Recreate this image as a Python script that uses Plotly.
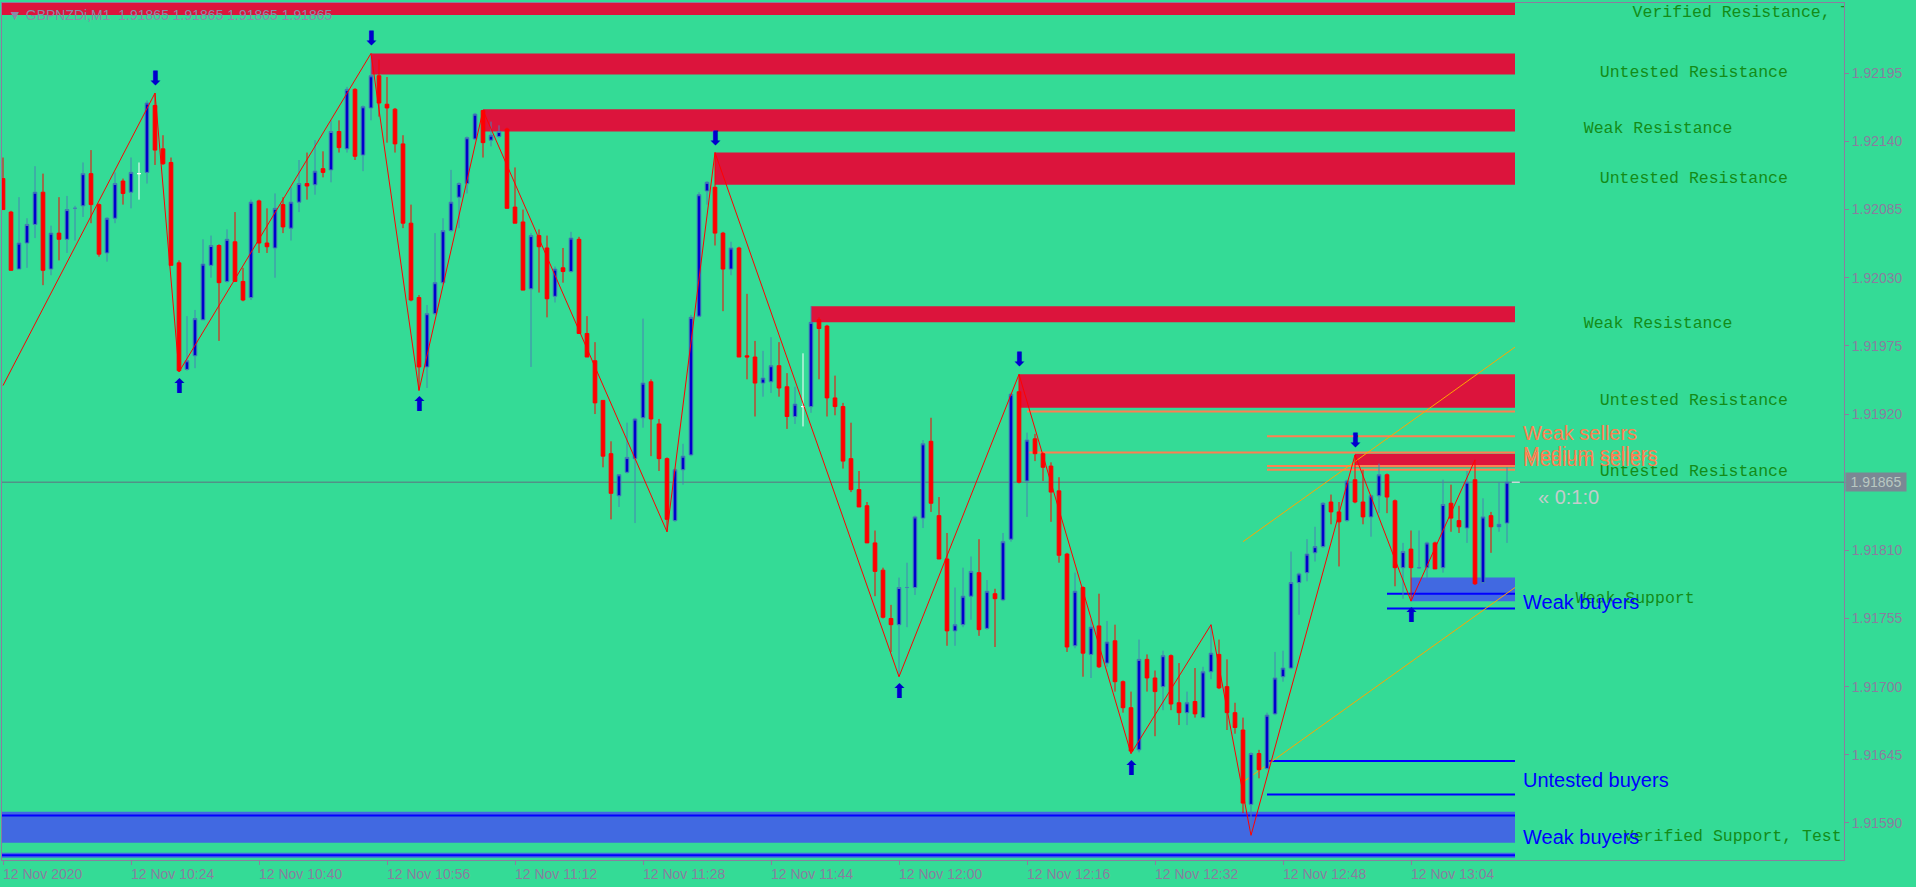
import pandas as pd
import plotly.graph_objects as go

# ---------------- data ----------------
symbol_title = "\u25BC GBPNZDi,M1  1.91865 1.91865 1.91865 1.91865"
start_time = "2020-11-12 10:08"
last_price = 1.91865

opens = [1.92110, 1.92083, 1.92037, 1.92058, 1.92073, 1.92099, 1.92037, 1.92066, 1.92061, 1.92086,
         1.92088, 1.92114, 1.92089, 1.92050, 1.92078, 1.92108, 1.92099, 1.92114, 1.92115, 1.92169,
         1.92134, 1.92123, 1.92042, 1.91956, 1.91967, 1.91996, 1.92040, 1.92056, 1.92027, 1.92059,
         1.92027, 1.92014, 1.92092, 1.92058, 1.92054, 1.92089, 1.92070, 1.92091, 1.92106, 1.92105,
         1.92118, 1.92117, 1.92148, 1.92134, 1.92182, 1.92129, 1.92167, 1.92193, 1.92170, 1.92166,
         1.92138, 1.92074, 1.92014, 1.91958, 1.92001, 1.92026, 1.92068, 1.92095, 1.92106, 1.92142,
         1.92165, 1.92141, 1.92144, 1.92150, 1.92087, 1.92075, 1.92021, 1.92064, 1.92054, 1.92015,
         1.92038, 1.92035, 1.92061, 1.91985, 1.91963, 1.91931, 1.91888, 1.91854, 1.91873, 1.91884,
         1.91917, 1.91946, 1.91912, 1.91884, 1.91834, 1.91875, 1.91887, 1.91999, 1.92100, 1.92103,
         1.92066, 1.92037, 1.92054, 1.91967, 1.91966, 1.91945, 1.91946, 1.91959, 1.91942, 1.91918,
         1.91926, 1.91926, 1.91996, 1.91991, 1.91933, 1.91926, 1.91884, 1.91859, 1.91846, 1.91816,
         1.91794, 1.91755, 1.91750, 1.91780, 1.91780, 1.91836, 1.91898, 1.91838, 1.91803, 1.91745,
         1.91750, 1.91773, 1.91792, 1.91747, 1.91775, 1.91770, 1.91819, 1.91938, 1.91866, 1.91900,
         1.91888, 1.91878, 1.91858, 1.91807, 1.91733, 1.91780, 1.91726, 1.91749, 1.91719, 1.91737,
         1.91704, 1.91683, 1.91649, 1.91722, 1.91707, 1.91700, 1.91725, 1.91687, 1.91679, 1.91688,
         1.91675, 1.91712, 1.91726, 1.91700, 1.91679, 1.91665, 1.91605, 1.91646, 1.91634, 1.91678,
         1.91708, 1.91715, 1.91784, 1.91792, 1.91808, 1.91813, 1.91849, 1.91841, 1.91834, 1.91867,
         1.91849, 1.91837, 1.91854, 1.91871, 1.91850, 1.91796, 1.91811, 1.91796, 1.91796, 1.91816,
         1.91796, 1.91848, 1.91834, 1.91828, 1.91867, 1.91784, 1.91838, 1.91829, 1.91832]
highs = [1.92127, 1.92084, 1.92095, 1.92078, 1.92120, 1.92114, 1.92072, 1.92095, 1.92096, 1.92088,
         1.92123, 1.92133, 1.92090, 1.92079, 1.92115, 1.92110, 1.92127, 1.92123, 1.92173, 1.92179,
         1.92145, 1.92127, 1.92044, 1.91999, 1.92004, 1.92061, 1.92064, 1.92057, 1.92069, 1.92083,
         1.92038, 1.92093, 1.92093, 1.92086, 1.92098, 1.92095, 1.92103, 1.92125, 1.92131, 1.92141,
         1.92132, 1.92157, 1.92157, 1.92184, 1.92183, 1.92169, 1.92211, 1.92206, 1.92192, 1.92167,
         1.92145, 1.92089, 1.92016, 1.92008, 1.92066, 1.92078, 1.92117, 1.92107, 1.92144, 1.92163,
         1.92165, 1.92156, 1.92153, 1.92151, 1.92119, 1.92085, 1.92066, 1.92069, 1.92064, 1.92039,
         1.92054, 1.92067, 1.92063, 1.91999, 1.91978, 1.91931, 1.91898, 1.91871, 1.91913, 1.91917,
         1.91997, 1.91948, 1.91916, 1.91885, 1.91876, 1.91896, 1.92000, 1.92099, 1.92108, 1.92131,
         1.92067, 1.92059, 1.92055, 1.92017, 1.91979, 1.91971, 1.91982, 1.91978, 1.91953, 1.91942,
         1.91969, 1.92007, 1.91998, 1.91992, 1.91951, 1.91929, 1.91913, 1.91874, 1.91849, 1.91826,
         1.91796, 1.91766, 1.91788, 1.91800, 1.91838, 1.91899, 1.91917, 1.91853, 1.91824, 1.91780,
         1.91796, 1.91805, 1.91819, 1.91786, 1.91779, 1.91824, 1.91937, 1.91952, 1.91905, 1.91904,
         1.91889, 1.91881, 1.91869, 1.91808, 1.91792, 1.91781, 1.91754, 1.91775, 1.91753, 1.91750,
         1.91705, 1.91696, 1.91738, 1.91726, 1.91713, 1.91729, 1.91726, 1.91719, 1.91696, 1.91715,
         1.91716, 1.91750, 1.91738, 1.91722, 1.91687, 1.91675, 1.91647, 1.91649, 1.91679, 1.91728,
         1.91729, 1.91809, 1.91792, 1.91819, 1.91829, 1.91849, 1.91855, 1.91849, 1.91867, 1.91887,
         1.91875, 1.91855, 1.91880, 1.91872, 1.91851, 1.91816, 1.91826, 1.91826, 1.91817, 1.91817,
         1.91867, 1.91863, 1.91846, 1.91874, 1.91883, 1.91852, 1.91841, 1.91865, 1.91877]
lows = [1.92085, 1.92036, 1.92037, 1.92038, 1.92062, 1.92024, 1.92032, 1.92044, 1.92050, 1.92060,
        1.92079, 1.92074, 1.92047, 1.92043, 1.92074, 1.92089, 1.92086, 1.92093, 1.92106, 1.92121,
        1.92121, 1.92040, 1.91954, 1.91955, 1.91957, 1.91996, 1.92030, 1.91979, 1.92026, 1.92027,
        1.92011, 1.92012, 1.92050, 1.92050, 1.92030, 1.92066, 1.92060, 1.92083, 1.92093, 1.92097,
        1.92111, 1.92107, 1.92131, 1.92131, 1.92125, 1.92116, 1.92157, 1.92160, 1.92139, 1.92131,
        1.92070, 1.92011, 1.91939, 1.91941, 1.92000, 1.92025, 1.92067, 1.92070, 1.92098, 1.92141,
        1.92127, 1.92136, 1.92143, 1.92086, 1.92074, 1.92020, 1.91958, 1.92018, 1.91998, 1.92010,
        1.92026, 1.92034, 1.91985, 1.91966, 1.91920, 1.91877, 1.91835, 1.91845, 1.91872, 1.91832,
        1.91909, 1.91886, 1.91874, 1.91825, 1.91833, 1.91863, 1.91886, 1.91998, 1.92089, 1.92056,
        1.92003, 1.92032, 1.91966, 1.91948, 1.91918, 1.91934, 1.91937, 1.91934, 1.91908, 1.91912,
        1.91910, 1.91921, 1.91948, 1.91918, 1.91919, 1.91876, 1.91857, 1.91845, 1.91816, 1.91773,
        1.91755, 1.91728, 1.91708, 1.91748, 1.91774, 1.91828, 1.91841, 1.91803, 1.91733, 1.91733,
        1.91748, 1.91754, 1.91741, 1.91746, 1.91732, 1.91769, 1.91817, 1.91864, 1.91837, 1.91882,
        1.91866, 1.91833, 1.91800, 1.91728, 1.91731, 1.91708, 1.91707, 1.91715, 1.91716, 1.91696,
        1.91679, 1.91646, 1.91647, 1.91696, 1.91660, 1.91681, 1.91681, 1.91669, 1.91669, 1.91675,
        1.91675, 1.91706, 1.91698, 1.91665, 1.91662, 1.91598, 1.91580, 1.91626, 1.91633, 1.91677,
        1.91704, 1.91714, 1.91758, 1.91785, 1.91801, 1.91812, 1.91831, 1.91797, 1.91833, 1.91848,
        1.91831, 1.91821, 1.91840, 1.91840, 1.91781, 1.91771, 1.91769, 1.91795, 1.91787, 1.91795,
        1.91792, 1.91825, 1.91824, 1.91816, 1.91782, 1.91783, 1.91808, 1.91825, 1.91816]
closes = [1.92085, 1.92036, 1.92058, 1.92073, 1.92099, 1.92036, 1.92066, 1.92061, 1.92085, 1.92086,
          1.92114, 1.92089, 1.92049, 1.92078, 1.92106, 1.92098, 1.92115, 1.92114, 1.92171, 1.92133,
          1.92122, 1.92040, 1.91955, 1.91963, 1.91997, 1.92041, 1.92056, 1.92026, 1.92061, 1.92027,
          1.92012, 1.92091, 1.92058, 1.92055, 1.92086, 1.92071, 1.92091, 1.92106, 1.92104, 1.92116,
          1.92115, 1.92148, 1.92135, 1.92182, 1.92128, 1.92168, 1.92193, 1.92171, 1.92167, 1.92138,
          1.92074, 1.92012, 1.91958, 1.92001, 1.92026, 1.92068, 1.92091, 1.92106, 1.92143, 1.92162,
          1.92139, 1.92145, 1.92148, 1.92086, 1.92074, 1.92020, 1.92064, 1.92055, 1.92013, 1.92037,
          1.92035, 1.92062, 1.91985, 1.91966, 1.91929, 1.91886, 1.91856, 1.91871, 1.91885, 1.91916,
          1.91945, 1.91916, 1.91884, 1.91835, 1.91875, 1.91886, 1.91998, 1.92097, 1.92107, 1.92066,
          1.92037, 1.92054, 1.91966, 1.91966, 1.91945, 1.91949, 1.91959, 1.91941, 1.91918, 1.91928,
          1.91926, 1.91994, 1.91989, 1.91933, 1.91926, 1.91882, 1.91859, 1.91845, 1.91816, 1.91793,
          1.91756, 1.91750, 1.91780, 1.91780, 1.91837, 1.91896, 1.91848, 1.91803, 1.91745, 1.91750,
          1.91773, 1.91793, 1.91746, 1.91777, 1.91771, 1.91817, 1.91936, 1.91865, 1.91899, 1.91888,
          1.91877, 1.91857, 1.91806, 1.91732, 1.91777, 1.91727, 1.91748, 1.91716, 1.91736, 1.91704,
          1.91683, 1.91648, 1.91722, 1.91707, 1.91696, 1.91725, 1.91686, 1.91679, 1.91687, 1.91678,
          1.91712, 1.91727, 1.91699, 1.91679, 1.91667, 1.91606, 1.91646, 1.91633, 1.91677, 1.91707,
          1.91715, 1.91784, 1.91791, 1.91807, 1.91813, 1.91848, 1.91841, 1.91833, 1.91866, 1.91849,
          1.91837, 1.91854, 1.91871, 1.91853, 1.91796, 1.91809, 1.91796, 1.91796, 1.91816, 1.91795,
          1.91847, 1.91836, 1.91829, 1.91865, 1.91783, 1.91837, 1.91829, 1.91831, 1.91865]

doji_bars = [9, 113, 177]
white_bars = [17, 100]

zigzag_bars = [0, 19, 22, 46, 52, 60, 83, 89, 112, 127, 141, 151, 156, 169, 176, 184]
zigzag_prices = [1.91943, 1.92179, 1.91954, 1.92211, 1.91939, 1.92165, 1.91825, 1.92131,
                 1.91708, 1.91952, 1.91646, 1.91750, 1.91580, 1.91887, 1.91769, 1.91883]

down_arrow_bars = [19, 46, 89, 127, 169]
up_arrow_bars = [22, 52, 112, 141, 176]

zone_end_bar = 189
res_zone_start = [-2, 46, 60, 89, 101, 127, 169]
res_zone_low = [1.92242, 1.92194, 1.92148, 1.92105, 1.91994, 1.91925, 1.91877]
res_zone_high = [1.92270, 1.92211, 1.92166, 1.92131, 1.92007, 1.91952, 1.91888]
sup_zone_start = [176, -2, -2]
sup_zone_low = [1.91769, 1.91574, 1.91562]
sup_zone_high = [1.91788, 1.91599, 1.91566]

seller_line_start = [128, 128, 158, 158, 158]
seller_line_price = [1.91922, 1.91889, 1.91902, 1.91878, 1.91875]
buyer_line_start = [173, 173, 158, 158, -2, -2]
buyer_line_price = [1.91775, 1.91763, 1.91640, 1.91613, 1.91596, 1.91564]

trend_bars = [155, 189]
trend_upper = [1.91817, 1.91974]
trend_lower = [1.91623, 1.91780]

zone_label_text = ["Verified Resistance, T", "Untested Resistance", "Weak Resistance",
                   "Untested Resistance", "Weak Resistance", "Untested Resistance",
                   "Untested Resistance", "Weak Support", "Verified Support, Test"]
zone_label_bar = [203.7, 199.6, 197.6, 199.6, 197.6, 199.6, 199.6, 196.6, 202.6]
zone_label_price = [1.92244, 1.92195, 1.92150, 1.92110, 1.91993, 1.91931, 1.91873, 1.91771, 1.91579]

flow_label_text = ["Weak sellers", "Medium sellers", "Medium sellers",
                   "Weak buyers", "Untested buyers", "Weak buyers"]
flow_label_price = [1.91905, 1.91888, 1.91884, 1.91768, 1.91625, 1.91579]
flow_label_kind = ["sell", "sell", "sell", "buy", "buy", "buy"]
flow_label_bar = 189.8

timer_text = "\u00AB 0:1:0"
timer_bar = 191.6
timer_price = 1.91853

y_ticks = [1.92195, 1.92140, 1.92085, 1.92030, 1.91975, 1.91920, 1.91865,
           1.91810, 1.91755, 1.91700, 1.91645, 1.91590]
x_tick_bars = [0, 16, 32, 48, 64, 80, 96, 112, 128, 144, 160, 176]
x_tick_labels = ["12 Nov 2020", "12 Nov 10:24", "12 Nov 10:40", "12 Nov 10:56", "12 Nov 11:12",
                 "12 Nov 11:28", "12 Nov 11:44", "12 Nov 12:00", "12 Nov 12:16", "12 Nov 12:32",
                 "12 Nov 12:48", "12 Nov 13:04"]

# ---------------- styles ----------------
BG = "#34DB96"
AXIS = "#8B7D9F"
CRIMSON = "#DC143C"
ROYAL = "#4169E1"
BLUE = "#0000FF"
CORAL = "#FF7F50"
GREEN_TXT = "#138C18"

t0 = pd.Timestamp(start_time)


def t(idx):
    return (t0 + pd.Timedelta(minutes=idx)).strftime("%Y-%m-%d %H:%M:%S.%f")


times = [t(i) for i in range(len(opens))]
special = set(doji_bars) | set(white_bars)
main_idx = [i for i in range(len(opens)) if i not in special]

fig = go.Figure()


def candle(idxs, inc_line, inc_fill, dec_line, dec_fill):
    return go.Candlestick(
        x=[times[i] for i in idxs],
        open=[opens[i] for i in idxs], high=[highs[i] for i in idxs],
        low=[lows[i] for i in idxs], close=[closes[i] for i in idxs],
        increasing=dict(line=dict(color=inc_line, width=1), fillcolor=inc_fill),
        decreasing=dict(line=dict(color=dec_line, width=1), fillcolor=dec_fill),
        whiskerwidth=0, hoverinfo="skip", showlegend=False)


fig.add_trace(candle(main_idx, "#4682B4", "#0000CD", "#FF0000", "#FF0000"))
fig.add_trace(candle(doji_bars, "#4682B4", "#4682B4", "#4682B4", "#4682B4"))
fig.add_trace(candle(white_bars, "#FFFFFF", "#FFFFFF", "#FFFFFF", "#FFFFFF"))

# zigzag
fig.add_trace(go.Scatter(x=[t(i) for i in zigzag_bars], y=zigzag_prices, mode="lines",
                         line=dict(color="#FF0000", width=1), hoverinfo="skip", showlegend=False))

# zone labels (clipped at plot edge)
fig.add_trace(go.Scatter(x=[t(b) for b in zone_label_bar], y=zone_label_price, mode="text",
                         text=zone_label_text, textposition="middle right",
                         textfont=dict(family="Liberation Mono", size=16.5, color=GREEN_TXT),
                         cliponaxis=True, hoverinfo="skip", showlegend=False))

shapes = []
for s, lo, hi in zip(res_zone_start, res_zone_low, res_zone_high):
    shapes.append(dict(type="rect", xref="x", yref="y", x0=t(s), x1=t(zone_end_bar), y0=lo, y1=hi,
                       fillcolor=CRIMSON, line=dict(width=0), layer="below"))
for s, lo, hi in zip(sup_zone_start, sup_zone_low, sup_zone_high):
    shapes.append(dict(type="rect", xref="x", yref="y", x0=t(s), x1=t(zone_end_bar), y0=lo, y1=hi,
                       fillcolor=ROYAL, line=dict(width=0), layer="below"))
shapes.append(dict(type="line", xref="paper", yref="y", x0=0, x1=1, y0=last_price, y1=last_price,
                   line=dict(color="#607080", width=1), layer="below"))
for s, p in zip(seller_line_start, seller_line_price):
    shapes.append(dict(type="line", xref="x", yref="y", x0=t(s), x1=t(zone_end_bar), y0=p, y1=p,
                       line=dict(color=CORAL, width=2), layer="below"))
for s, p in zip(buyer_line_start, buyer_line_price):
    shapes.append(dict(type="line", xref="x", yref="y", x0=t(s), x1=t(zone_end_bar), y0=p, y1=p,
                       line=dict(color=BLUE, width=2), layer="below"))
for prices in (trend_upper, trend_lower):
    shapes.append(dict(type="line", xref="x", yref="y", x0=t(trend_bars[0]), x1=t(trend_bars[1]),
                       y0=prices[0], y1=prices[1], line=dict(color="#FFA500", width=1), layer="below"))
shapes.append(dict(type="line", xref="x", yref="y", x0=t(len(opens) - 0.4), x1=t(len(opens) + 0.6),
                   y0=last_price, y1=last_price, line=dict(color="#FFFFFF", width=1)))

ann = []
for b in down_arrow_bars:
    ann.append(dict(x=t(b), y=highs[b], xref="x", yref="y", text="\u2B07", showarrow=False,
                    yanchor="middle", yshift=15, font=dict(family="DejaVu Sans", size=20, color="#0000CD")))
for b in up_arrow_bars:
    ann.append(dict(x=t(b), y=lows[b], xref="x", yref="y", text="\u2B06", showarrow=False,
                    yanchor="middle", yshift=-14, font=dict(family="DejaVu Sans", size=20, color="#0000CD")))
for txt, p, k in zip(flow_label_text, flow_label_price, flow_label_kind):
    ann.append(dict(x=t(flow_label_bar), y=p, xref="x", yref="y", text=txt, showarrow=False,
                    xanchor="left", yanchor="middle",
                    font=dict(family="Liberation Sans", size=20, color=CORAL if k == "sell" else BLUE)))
ann.append(dict(x=t(timer_bar), y=timer_price, xref="x", yref="y", text=timer_text, showarrow=False,
                xanchor="left", yanchor="middle",
                font=dict(family="Liberation Sans", size=20, color="#C4CCCC")))
for b, lab in zip(x_tick_bars, x_tick_labels):
    ann.append(dict(x=t(b), y=0, xref="x", yref="paper", text=lab, showarrow=False,
                    xanchor="left", yanchor="top", yshift=-4, xshift=-2,
                    font=dict(family="Liberation Sans", size=14, color=AXIS)))
ann.append(dict(x=1, y=last_price, xref="paper", yref="y", text=f"{last_price:.5f}", showarrow=False,
                xanchor="left", yanchor="middle", xshift=1, bgcolor="#7B8794", borderpad=1,
                width=58, align="center", font=dict(family="Liberation Sans", size=14, color="#B9C8C2")))
ann.append(dict(x=0, y=1, xref="paper", yref="paper", text=symbol_title, showarrow=False,
                xanchor="left", yanchor="top", xshift=4, yshift=-2,
                font=dict(family="Liberation Sans", size=14, color="#8A8AA6")))

fig.update_layout(
    width=1916, height=887, autosize=False,
    margin=dict(l=2, r=72, t=3, b=27, pad=0),
    paper_bgcolor=BG, plot_bgcolor=BG, showlegend=False, hovermode=False,
    boxgap=0.35, shapes=shapes, annotations=ann,
    xaxis=dict(type="date", range=[t(-0.125), t(230.125)], showgrid=False, zeroline=False,
               showline=True, mirror=True, linecolor=AXIS, linewidth=1,
               ticks="outside", ticklen=4, tickcolor=AXIS, tickvals=[t(b) for b in x_tick_bars],
               showticklabels=False, rangeslider=dict(visible=False)),
    yaxis=dict(range=[1.915601, 1.922517], side="right", showgrid=False, zeroline=False,
               showline=True, mirror=True, linecolor=AXIS, linewidth=1,
               ticks="outside", ticklen=4, tickcolor=AXIS, tickvals=y_ticks,
               ticktext=[f"{v:.5f}" for v in y_ticks], automargin=False,
               tickfont=dict(family="Liberation Sans", size=14, color=AXIS)),
)

fig.write_html("out.html", config={"displayModeBar": False},
               post_script="document.body.style.margin='0px';document.body.style.overflow='hidden';")
